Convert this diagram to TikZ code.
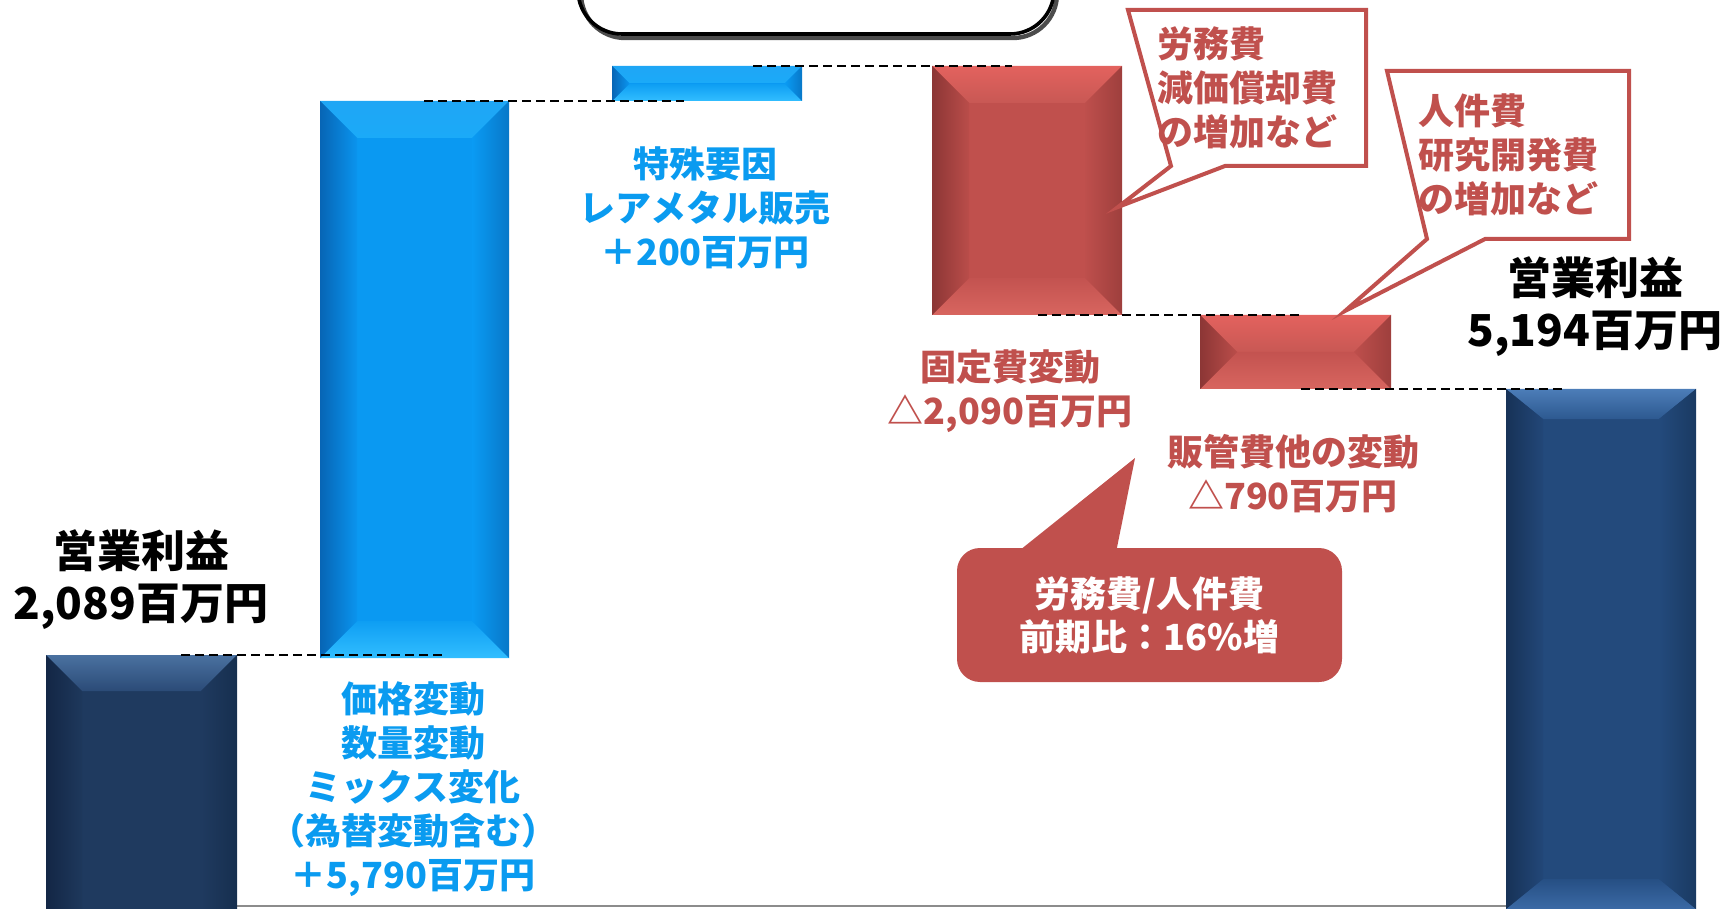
\documentclass[tikz,border=0pt]{standalone}
\usepackage{fontspec}
\setmainfont{Noto Sans CJK JP}
\usetikzlibrary{calc,fit}
\definecolor{txtblue}{HTML}{0A9BF0}
\definecolor{txtred}{HTML}{C0504D}
% palettes: B base; Ta/Tb/Tc top bevel (top, middle, bottom); So/Si left side (outer, inner);
% Ro/Ri right side (outer, inner); Da/Db bottom bevel (upper, lower)
\definecolor{redB}{HTML}{C0504D}\definecolor{redTa}{HTML}{E3625E}\definecolor{redTb}{HTML}{F39A94}\definecolor{redTc}{HTML}{C85854}
\definecolor{redSo}{HTML}{8C3635}\definecolor{redSi}{HTML}{BA4D4A}\definecolor{redRo}{HTML}{9E3F3D}\definecolor{redRi}{HTML}{BE4F4C}
\definecolor{redDa}{HTML}{C35350}\definecolor{redDb}{HTML}{D8655F}
\definecolor{bluB}{HTML}{0A99F2}\definecolor{bluTa}{HTML}{1FA6F5}\definecolor{bluTb}{HTML}{4ADDFF}\definecolor{bluTc}{HTML}{1BAAF8}
\definecolor{bluSo}{HTML}{0765B5}\definecolor{bluSi}{HTML}{0A94EE}\definecolor{bluRo}{HTML}{0878C8}\definecolor{bluRi}{HTML}{0A9BF4}
\definecolor{bluDa}{HTML}{0E9EF3}\definecolor{bluDb}{HTML}{32BEFF}
\definecolor{navLB}{HTML}{1F3A5F}\definecolor{navLTa}{HTML}{4A71A0}\definecolor{navLTb}{HTML}{6488B6}\definecolor{navLTc}{HTML}{2B4B77}
\definecolor{navLSo}{HTML}{132645}\definecolor{navLSi}{HTML}{1E385C}\definecolor{navLRo}{HTML}{162F4F}\definecolor{navLRi}{HTML}{1F3A5F}
\definecolor{navLDa}{HTML}{213E64}\definecolor{navLDb}{HTML}{2F5280}
\definecolor{navRB}{HTML}{234A7C}\definecolor{navRTa}{HTML}{4C7DB8}\definecolor{navRTb}{HTML}{6A9AD4}\definecolor{navRTc}{HTML}{2D5990}
\definecolor{navRSo}{HTML}{173257}\definecolor{navRSi}{HTML}{224778}\definecolor{navRRo}{HTML}{1A3A62}\definecolor{navRRi}{HTML}{234A7C}
\definecolor{navRDa}{HTML}{264F84}\definecolor{navRDb}{HTML}{3B6AA5}
\newcommand\wfbar[8]{%
  \fill[#8B] (#2,#3) rectangle (#4,#5);
  \shade[top color=#8Ta, middle color=#8Tb, bottom color=#8Tc] (#2,#3) -- (#4,#3) -- ({#4-#6},{#3+#7}) -- ({#2+#6},{#3+#7}) -- cycle;
  \shade[top color=#8Da, bottom color=#8Db] (#2,#5) -- (#4,#5) -- ({#4-#6},{#5-#7}) -- ({#2+#6},{#5-#7}) -- cycle;
  \shade[left color=#8So, right color=#8Si] (#2,#3) -- ({#2+#6},{#3+#7}) -- ({#2+#6},{#5-#7}) -- (#2,#5) -- cycle;
  \shade[left color=#8Ri, right color=#8Ro] (#4,#3) -- ({#4-#6},{#3+#7}) -- ({#4-#6},{#5-#7}) -- (#4,#5) -- cycle;
  \node[fit={(#2,#3) (#4,#5)}, inner sep=0pt, outer sep=0pt] (#1) {};
}
\begin{document}
\begin{tikzpicture}[x=0.5pt,y=-0.5pt,
  lbl/.style={align=center, font=\bfseries\fontsize{18}{22}\selectfont, inner sep=0pt},
  blulbl/.style={lbl, text=txtblue},
  redlbl/.style={lbl, text=txtred},
  blklbl/.style={align=center, font=\bfseries\fontsize{22}{26}\selectfont, inner sep=0pt, text=black},
  conn/.style={dash pattern=on 4.5pt off 2.5pt, line width=1pt, black},
  calltext/.style={align=left, font=\bfseries\fontsize{18}{22}\selectfont, text=txtred, inner sep=0pt, outer sep=0pt},
  callline/.style={draw=txtred, line width=2pt, line join=miter},
]
\useasboundingbox (0,0) rectangle (1725,909);
\begin{scope}
\clip (0,0) rectangle (1725,909);
% top rounded box (cut off)
\draw[line width=2.2pt, black!70, rounded corners=22pt] (581,-100) rectangle (1057,38);
\draw[line width=1.8pt, black, rounded corners=22pt] (578,-100) rectangle (1054,34);
% axis
\draw[line width=1pt, black!45] (46,906) -- (1696,906);
% bars
\wfbar{L}{46}{655}{237}{990}{36}{36}{navL}
\wfbar{B1}{320}{101}{509}{658}{37}{37}{blu}
\wfbar{B2}{612}{66}{802}{101}{17}{17}{blu}
\wfbar{R1}{932}{66}{1122}{315}{37}{37}{red}
\wfbar{R2}{1200}{315}{1391}{389}{37}{37}{red}
\wfbar{RB}{1506}{389}{1696}{909}{37}{30}{navR}
\end{scope}
% dashed connectors
\draw[conn] ($(L.north east)+(-28pt,0)$) -- ($(B1.south west |- L.north)+(62pt,0)$);
\draw[conn] ($(B1.north east)+(-42.5pt,0)$) -- ($(B2.south west |- B1.north)+(36pt,0)$);
\draw[conn] ($(B2.north east)+(-24.5pt,0)$) -- ($(R1.north west)+(40pt,0)$);
\draw[conn] ($(R1.south east)+(-42pt,0)$) -- ($(R2.north west)+(50pt,0)$);
\draw[conn] ($(R2.south east)+(-45pt,0)$) -- ($(RB.north west)+(28pt,0)$);
% labels
\node[blklbl] (lblL) at (141,580) {営業利益\\2,089百万円};
\node[blulbl] (lblB1) at (413,789) {価格変動\\数量変動\\ミックス変化\\（為替変動含む）\\＋5,790百万円};
\node[blulbl] (lblB2) at (705,208) {特殊要因\\レアメタル販売\\＋200百万円};
\node[redlbl] (lblR1) at (1010,391) {固定費変動\\△2,090百万円};
\node[redlbl] (lblR2) at (1293,474) {販管費他の変動\\△790百万円};
\node[blklbl] (lblRB) at (1595,307) {営業利益\\5,194百万円};
% callout 1
\node[calltext, minimum width=119pt, minimum height=78pt] (C1) at (1247,88) {労務費\\減価償却費\\の増加など};
\coordinate (tip1) at (1118,207);
\draw[callline] (C1.north west) -- (C1.north east) -- (C1.south east) -- ($(C1.south west)+(48.5pt,0)$) -- (tip1) -- ($(C1.south west)+(21.5pt,0)$) -- cycle;
% callout 2
\node[calltext, minimum width=121pt, minimum height=84pt] (C2) at (1508,155) {人件費\\研究開発費\\の増加など};
\coordinate (tip2) at (1345,311);
\draw[callline] (C2.north west) -- (C2.north east) -- (C2.south east) -- ($(C2.south west)+(49pt,0)$) -- (tip2) -- ($(C2.south west)+(20pt,0)$) -- cycle;
% filled callout
\node[fill=txtred, rounded corners=11.5pt, minimum width=192.5pt, minimum height=67pt, inner sep=0pt, align=center,
      text=white, font=\bfseries\fontsize{18}{21.5}\selectfont] (W) at (1149.5,615) {労務費/人件費\\前期比：16\%増};
\coordinate (tipW) at (1135,458);
\fill[txtred] ($(W.north west)+(32pt,-1pt)$) -- (tipW) -- ($(W.north west)+(80pt,-1pt)$) -- cycle;
\end{tikzpicture}
\end{document}
